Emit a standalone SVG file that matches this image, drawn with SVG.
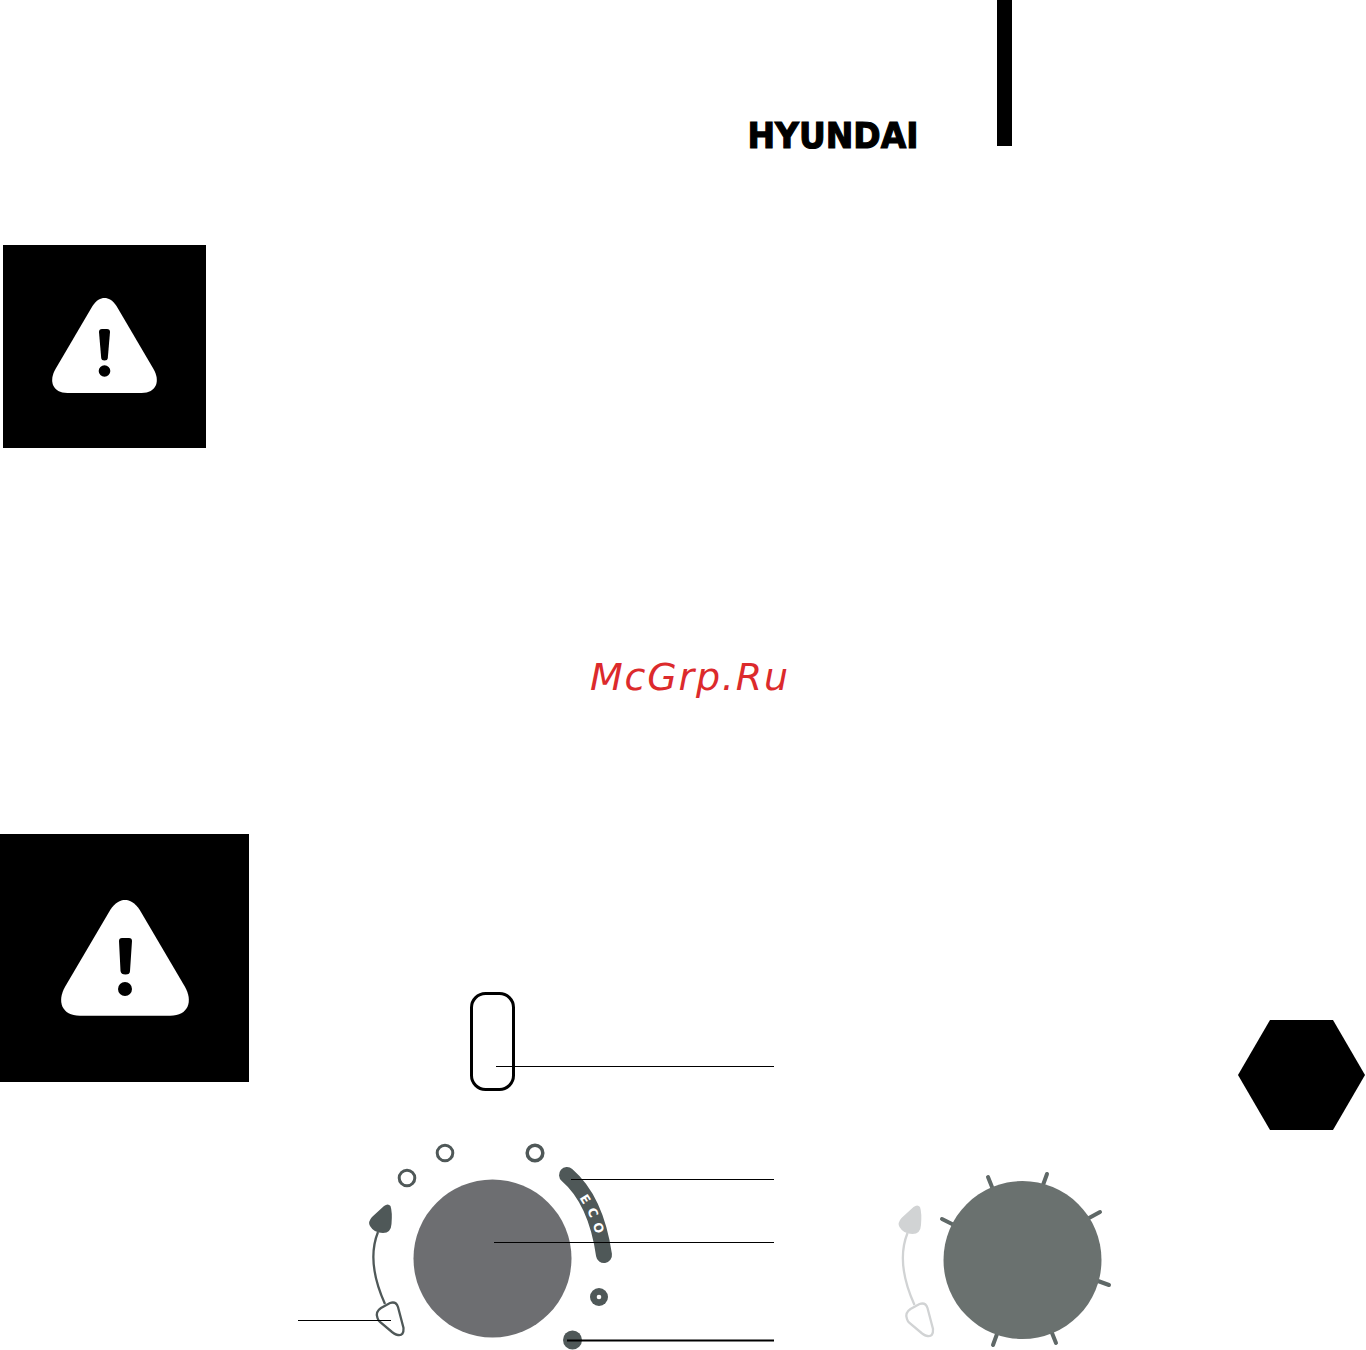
<svg xmlns="http://www.w3.org/2000/svg" width="1366" height="1350" viewBox="0 0 1366 1350">
<style>
.leader{stroke:#000;stroke-width:1;fill:none}
.ring{fill:#fff;stroke:#4f5858;stroke-width:3}
.tick{stroke:#5f6867;stroke-width:4;stroke-linecap:round}
</style>
<defs>
<path id="warn" d="M-12 -47C-8 -53 -4 -55 0 -55C4 -55 8 -53 12 -47L49 16C56 28 52 40 37 40L-37 40C-52 40 -56 28 -49 16Z"/>
<path id="eco-path" d="M579 1198Q590 1212 597 1238"/>
</defs>
<rect width="1366" height="1350" fill="#fff"/>
<g id="top-bar"><rect x="997" y="0" width="15" height="146" fill="#000"/></g>
<g id="logo"><text x="747.500" y="147.500" font-family="'DejaVu Sans',sans-serif" font-weight="700" font-size="35.500" textLength="171" lengthAdjust="spacingAndGlyphs" fill="#000" stroke="#000" stroke-width="1.200">HYUNDAI</text></g>
<g id="warning-1">
<rect x="3" y="245" width="203" height="203" fill="#000"/>
<use href="#warn" transform="translate(104.5 353)" fill="#fff"/>
<path d="M99 332Q99 329 102 329L107 329Q110 329 110 332L107.800 358Q107.500 360.500 104.500 360.500Q101.500 360.500 101.200 358Z" fill="#000"/>
<circle cx="104.500" cy="371" r="5.800" fill="#000"/>
</g>
<g id="watermark"><text x="590" y="690" font-family="'DejaVu Sans',sans-serif" font-style="oblique" font-size="38" textLength="198" fill="#dc2a2c">McGrp.Ru</text></g>
<g id="warning-2">
<rect x="0" y="834" width="249" height="248" fill="#000"/>
<use href="#warn" transform="translate(125 967) scale(1.220 1.220)" fill="#fff"/>
<path d="M119 941Q119 938 122 938L129 938Q132 938 132 941L130 971Q130 974.500 125.500 974.500Q121 974.500 120.500 971Z" fill="#000"/>
<circle cx="125" cy="989" r="7" fill="#000"/>
</g>
<g id="hexagon"><polygon points="1238,1075 1270,1020 1333,1020 1365,1075 1333,1130 1270,1130" fill="#000"/></g>
<g id="switch"><rect x="471.500" y="993.500" width="42" height="96" rx="14" fill="#fff" stroke="#000" stroke-width="3"/></g>
<g id="indicators">
<circle class="ring" cx="407" cy="1178" r="7.800"/>
<circle class="ring" cx="445" cy="1153" r="7.800"/>
<circle class="ring" cx="535" cy="1153" r="7.800" style="stroke-width:3.500"/>
</g>
<g id="eco">
<path d="M567 1175Q596 1200 604 1255" fill="none" stroke="#4f5858" stroke-width="16" stroke-linecap="round"/>
<text font-family="'DejaVu Sans',sans-serif" font-weight="700" font-size="12.500" fill="#fff" letter-spacing="6"><textPath href="#eco-path">ECO</textPath></text>
</g>
<g id="dial-1"><circle cx="492.500" cy="1258.500" r="79" fill="#6d6e71"/></g>
<g id="lamp-1"><circle cx="599" cy="1297" r="9" fill="#4f5858"/><circle cx="599" cy="1297" r="2.300" fill="#fff"/></g>
<g id="lamp-2"><circle cx="572.500" cy="1340" r="9.500" fill="#4f5858"/></g>
<g id="arrow-1" fill="none" stroke="#4f5858" stroke-width="2.300">
<path d="M384 1206Q388 1203 390.500 1206Q392.500 1212 391.500 1224Q391 1233 383 1233Q374 1233 370 1226Q367.500 1222 372 1217Z" fill="#4f5858" stroke="none"/>
<path d="M378 1232Q366 1262 385 1304"/>
<path d="M377.500 1318Q375 1312 381 1308L390 1303Q396 1301 398 1307L403.500 1328Q404 1336 398 1335Q396 1335 392 1332L380 1322Q378 1320 377.500 1318Z" fill="#fff"/>
</g>
<g id="dial-2">
<line class="tick" x1="988" y1="1177" x2="992" y2="1187"/>
<line class="tick" x1="1047" y1="1174" x2="1043" y2="1185"/>
<line class="tick" x1="1100" y1="1212" x2="1089" y2="1218"/>
<line class="tick" x1="1109" y1="1285" x2="1098" y2="1281"/>
<line class="tick" x1="1056" y1="1343" x2="1052" y2="1333"/>
<line class="tick" x1="993" y1="1345" x2="997" y2="1334"/>
<line class="tick" x1="942" y1="1219" x2="952" y2="1224"/>
<circle cx="1022.500" cy="1260" r="79" fill="#6a716f"/>
</g>
<g id="arrow-2" transform="translate(529.500 1)" fill="none" stroke="#d1d3d4" stroke-width="2.300">
<path d="M384 1206Q388 1203 390.500 1206Q392.500 1212 391.500 1224Q391 1233 383 1233Q374 1233 370 1226Q367.500 1222 372 1217Z" fill="#d1d3d4" stroke="none"/>
<path d="M378 1232Q366 1262 385 1304"/>
<path d="M377.500 1318Q375 1312 381 1308L390 1303Q396 1301 398 1307L403.500 1328Q404 1336 398 1335Q396 1335 392 1332L380 1322Q378 1320 377.500 1318Z" fill="#fff"/>
</g>
<g id="connectors">
<line class="leader" x1="496" y1="1066.500" x2="774" y2="1066.500"/>
<line class="leader" x1="571" y1="1179.500" x2="774" y2="1179.500"/>
<line class="leader" x1="494" y1="1242.500" x2="774" y2="1242.500"/>
<line class="leader" x1="298" y1="1320.500" x2="391" y2="1320.500"/>
<line class="leader" x1="567" y1="1340.500" x2="774" y2="1340.500" style="stroke-width:2"/>
</g>
</svg>
